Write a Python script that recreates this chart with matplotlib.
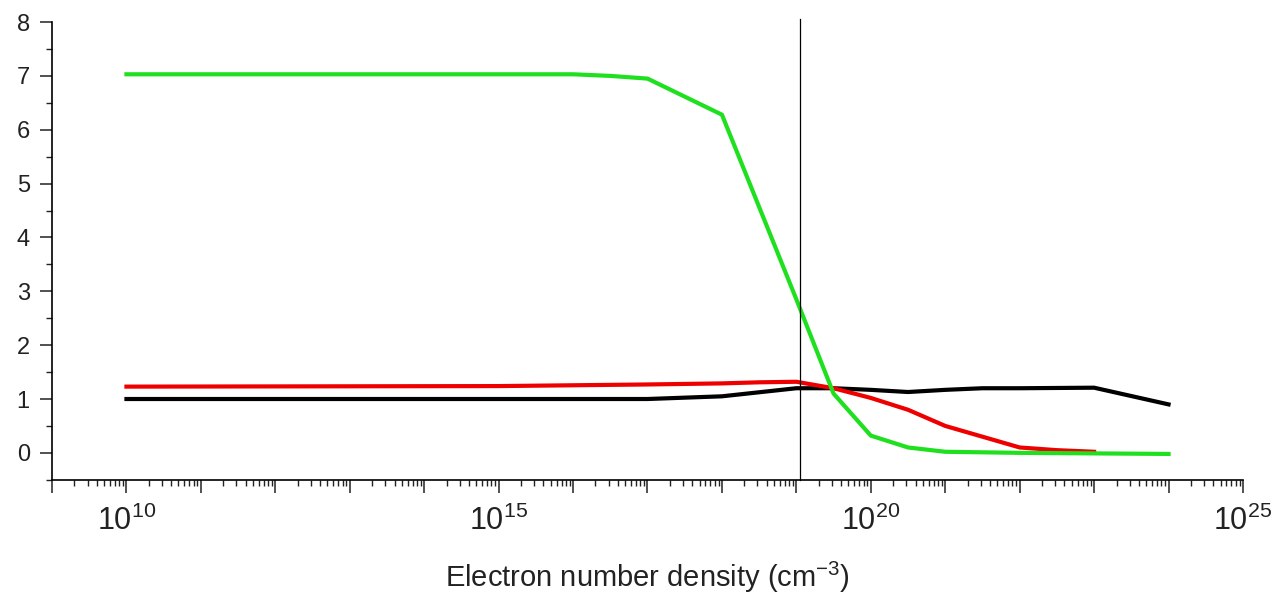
import matplotlib
matplotlib.use("Agg")
import matplotlib.pyplot as plt
import matplotlib.ticker as mticker
import numpy as np

plt.rcParams["font.family"] = ["Liberation Sans", "DejaVu Sans"]
plt.rcParams["mathtext.fontset"] = "custom"
plt.rcParams["mathtext.rm"] = "Liberation Sans"
plt.rcParams["mathtext.it"] = "Liberation Sans:italic"

# log10 of electron number density (cm^-3) and curve values
green_logn = [10, 16, 16.5, 17, 18, 19, 19.5, 20, 20.5, 21, 22, 23, 24]
green_vals = [7.03, 7.03, 7.0, 6.95, 6.28, 2.85, 1.1, 0.32, 0.1, 0.02, 0.0, -0.01, -0.02]

red_logn = [10, 15, 17, 18, 18.5, 19, 19.5, 20, 20.5, 21, 21.5, 22, 22.5, 23]
red_vals = [1.23, 1.24, 1.27, 1.29, 1.31, 1.32, 1.2, 1.02, 0.8, 0.5, 0.3, 0.1, 0.05, 0.02]

black_logn = [10, 17, 18, 19, 19.5, 20, 20.5, 21, 21.5, 22, 23, 24]
black_vals = [1.0, 1.0, 1.05, 1.2, 1.2, 1.17, 1.13, 1.17, 1.2, 1.2, 1.21, 0.9]

marker_logn = 19.05

fig = plt.figure(figsize=(12.78, 5.96), dpi=100)
ax = fig.add_axes([0.0407, 0.195, 0.9319, 0.768])

ax.plot(10.0 ** np.array(black_logn), black_vals, color="black", lw=3)
ax.plot(10.0 ** np.array(red_logn), red_vals, color="#ee0000", lw=3)
ax.plot(10.0 ** np.array(green_logn), green_vals, color="#1ee01e", lw=3)
ax.plot([10.0 ** marker_logn] * 2, [-0.5, 8.05], color="black", lw=0.9, clip_on=False)

ax.set_xscale("log")
ax.set_xlim(1e9, 1e25)
ax.set_ylim(-0.5, 8)

for side in ("top", "right"):
    ax.spines[side].set_visible(False)
for side in ("left", "bottom"):
    ax.spines[side].set_linewidth(1.2)

ax.xaxis.set_major_locator(mticker.LogLocator(base=10, numticks=30))
ax.xaxis.set_minor_locator(mticker.LogLocator(base=10, subs=np.arange(2, 10), numticks=30))


def decade_label(x, pos):
    e = int(round(np.log10(x)))
    if e % 5 == 0:
        return r"$\mathdefault{10^{%d}}$" % e
    return ""


ax.xaxis.set_major_formatter(mticker.FuncFormatter(decade_label))
ax.xaxis.set_minor_formatter(mticker.NullFormatter())

ax.yaxis.set_major_locator(mticker.MultipleLocator(1))
ax.yaxis.set_minor_locator(mticker.MultipleLocator(0.5))

ax.tick_params(axis="x", which="major", length=9, width=1.1, labelsize=22, pad=10, colors="#222222")
ax.tick_params(axis="x", which="minor", length=4, width=1.0, colors="#222222")
ax.tick_params(axis="y", which="major", length=9, width=1.1, labelsize=17, pad=7, colors="#222222")
ax.tick_params(axis="y", which="minor", length=4.5, width=1.0, colors="#222222")

ax.set_xlabel(r"Electron number density (cm$^{-3}$)", fontsize=21, color="#222222", labelpad=16)

fig.savefig("out.png", dpi=100)
